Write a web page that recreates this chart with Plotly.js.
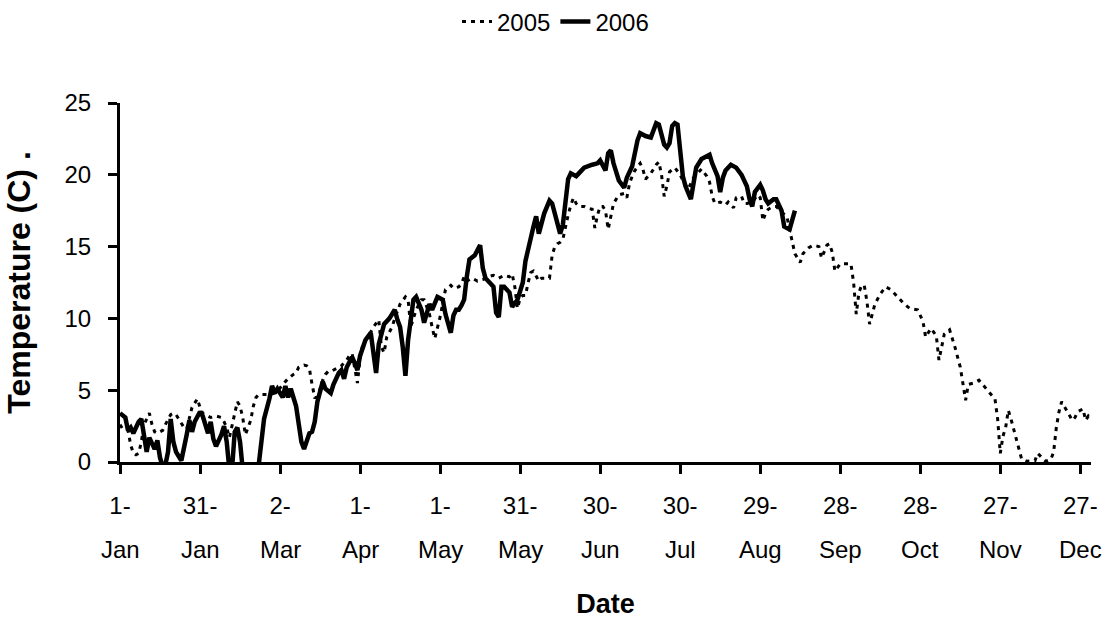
<!DOCTYPE html>
<html>
<head>
<meta charset="utf-8">
<script src="https://cdn.plot.ly/plotly-3.0.1.min.js"></script>
<style>html,body{margin:0;padding:0;background:#fff;}#chart{width:1111px;height:619px;}</style>
</head>
<body>
<div id="chart"></div>
<script>
// Day of year (1 = 1-Jan) and daily mean temperature (C)
const days2005 = [1,2,4,5,6,7,8,9,10,11,12,13,14,15,16,17,18,19,20,21,22,23,24,25,26,27,28,29,30,31,32,33,35,37,39,40,41,42,43,44,45,46,47,48,49,50,51,52,53,55,57,59,60,62,64,66,67,68,70,71,72,73,74,75,76,77,78,79,80,82,84,86,87,88,89,90,91,92,94,96,98,99,100,101,103,104,106,108,109,110,112,114,115,117,118,119,121,123,125,126,128,129,130,131,133,135,137,139,141,143,145,147,148,149,150,151,152,153,154,155,156,157,158,159,161,162,163,164,165,166,167,168,169,170,171,172,173,175,176,178,179,180,181,182,183,184,185,186,188,190,191,192,193,194,196,197,198,200,202,203,204,205,206,207,209,211,212,214,216,218,219,221,222,223,224,226,228,229,231,232,234,235,236,238,240,241,242,243,244,246,247,249,251,252,253,254,256,257,259,261,263,264,266,267,268,269,271,273,275,276,277,278,279,280,281,282,283,284,286,288,290,292,295,297,300,302,303,305,307,308,309,310,312,314,316,317,318,319,321,323,326,328,329,330,331,332,333,334,335,337,338,339,341,344,345,347,348,350,351,352,353,354,355,357,358,359,360,362,363,364,365];
const temp2005 = [2.6,2.3,2.2,1.2,0.6,0.5,0.6,1.4,2.6,3.0,3.4,2.6,2.1,2.0,2.1,2.2,2.6,3.0,3.3,3.4,3.3,3.0,2.7,2.4,2.3,3.0,3.8,4.1,4.4,3.8,3.4,3.3,3.1,3.2,3.1,2.8,2.4,1.7,2.6,3.4,4.2,3.9,3.1,1.9,2.4,2.9,3.9,4.5,4.7,4.7,4.7,4.8,4.9,5.4,5.8,6.1,6.2,6.6,6.75,6.7,6.5,5.4,4.5,4.5,5.2,5.7,6.1,6.3,6.3,6.5,6.7,7.1,7.4,7.55,6.5,5.5,7.2,8.2,8.7,9.4,9.9,8.0,7.6,8.7,9.4,10.0,11.0,11.5,11.3,9.4,10.6,11.3,11.3,10.3,9.4,8.6,10.1,12.0,12.3,12.1,12.2,12.4,12.9,12.6,12.8,12.6,12.7,12.9,13.0,12.8,13.0,12.9,13.1,12.2,10.7,11.4,11.6,11.6,12.5,13.2,13.3,13.0,12.6,12.8,12.8,12.8,14.4,15.0,15.2,15.3,15.5,16.4,17.2,17.9,18.4,18.0,17.8,17.8,17.7,17.6,16.3,17.2,17.8,17.8,17.5,16.2,17.2,18.0,18.6,18.7,18.4,19.4,19.9,20.3,20.8,20.4,19.7,20.1,20.7,20.9,20.0,18.5,19.2,20.2,20.5,20.0,19.6,19.0,19.8,20.2,20.4,19.9,19.5,18.5,18.0,18.1,17.9,18.1,17.7,18.4,18.5,18.0,18.0,18.1,18.6,18.4,16.8,17.3,17.6,17.8,17.8,17.4,17.1,16.2,15.3,14.5,13.9,14.5,14.9,15.1,15.0,14.2,15.1,15.2,14.6,13.3,13.8,13.8,13.8,12.5,10.3,11.8,12.3,12.3,11.2,9.6,10.3,11.0,11.7,12.2,12.0,11.6,11.0,10.7,10.6,9.8,8.7,9.3,8.8,7.1,8.0,8.9,9.2,8.0,6.6,5.5,4.3,5.4,5.5,5.7,5.0,4.6,4.4,3.0,0.6,1.8,2.4,3.6,3.0,1.5,0.8,0.2,0.05,0.1,0.6,0.2,0.05,0.2,0.7,2.4,3.5,4.2,3.9,3.3,2.9,3.1,3.5,3.7,2.9,3.2,3.0];

const days2006 = [1,3,4,5,6,8,9,10,11,12,14,15,16,17,18,19,20,21,22,23,24,26,27,28,29,31,32,34,35,36,37,39,40,41,42,43,44,45,46,47,48,50,52,53,54,55,57,58,59,60,62,63,64,65,67,68,69,70,71,72,73,74,75,76,77,78,80,81,83,84,85,86,88,89,90,91,93,95,96,97,98,100,102,104,105,106,107,108,109,110,111,112,113,114,115,116,117,118,119,120,122,123,125,126,127,128,129,130,131,132,134,135,136,137,138,139,141,142,143,144,145,147,148,150,152,153,155,156,157,158,160,162,163,165,166,167,168,169,170,172,173,175,178,180,181,183,184,185,186,187,188,190,191,193,194,195,196,198,200,201,202,203,204,205,206,207,208,209,210,211,212,213,215,216,217,219,222,223,225,226,227,228,230,232,234,236,237,238,239,241,242,243,244,246,247,249,250,252,253,254];
const temp2006 = [3.4,3.1,2.2,2.4,2.0,2.8,3.0,1.9,0.7,1.7,0.9,1.5,0.3,-0.3,-0.2,0.7,3.0,1.4,0.7,0.4,0.1,1.9,2.9,2.1,2.8,3.5,3.2,2.0,2.8,1.6,1.1,1.9,2.5,1.4,-0.5,-0.5,2.1,2.4,1.4,-0.5,-1.0,-1.5,-0.8,-0.2,1.6,3.0,4.4,5.3,4.8,5.1,4.5,5.3,4.5,5.1,3.9,2.5,1.4,0.9,1.5,2.0,2.1,2.8,4.2,5.0,5.6,5.1,4.8,5.4,6.2,6.4,5.8,6.6,7.3,6.9,6.4,7.4,8.5,9.0,7.5,6.2,8.2,9.6,10.0,10.6,9.9,9.4,8.0,6.0,8.5,10.2,11.3,11.5,11.0,10.6,9.7,10.3,11.0,10.6,11.0,11.5,11.3,10.3,9.0,10.2,10.6,10.6,10.9,11.3,12.9,14.1,14.4,14.7,15.1,13.5,12.8,12.6,12.2,10.4,10.1,12.2,12.2,11.8,10.8,11.3,12.5,14.0,15.8,16.4,17.1,15.9,17.3,18.2,18.0,16.6,15.9,16.5,18.5,19.7,20.1,19.9,20.1,20.5,20.7,20.8,21.0,20.3,21.5,21.7,20.8,20.1,19.6,19.1,19.8,20.6,21.5,22.4,22.9,22.7,22.6,23.1,23.6,23.5,22.7,22.1,21.9,22.2,23.4,23.6,23.5,21.7,19.9,19.2,18.3,19.4,20.5,21.1,21.4,20.8,19.9,18.8,19.8,20.3,20.7,20.5,20.0,19.2,18.3,17.8,18.8,19.3,18.9,18.3,18.0,18.3,18.3,17.5,16.4,16.2,16.8,17.5];

const tickDays = [1,31,61,91,121,151,181,211,241,271,301,331,361];
const tickDayText = ['1-','31-','2-','1-','1-','31-','30-','30-','29-','28-','28-','27-','27-'];
const tickMonthText = ['Jan','Jan','Mar','Apr','May','May','Jun','Jul','Aug','Sep','Oct','Nov','Dec'];

const seriesNames = ['2005','2006'];

const FONT = 'Liberation Sans, Arial, sans-serif';
const TICK_SIZE = 24;

const traces = [
  {x: days2005, y: temp2005, name: seriesNames[0], type: 'scatter', mode: 'lines',
   line: {color: '#000', width: 3, dash: '4px,5px'}},
  {x: days2006, y: temp2006, name: seriesNames[1], type: 'scatter', mode: 'lines',
   line: {color: '#000', width: 4.5}}
];

const axisCommon = {
  showgrid: false, zeroline: false, showline: true, linecolor: '#000', linewidth: 3,
  ticks: 'outside', ticklen: 9, tickwidth: 3, tickcolor: '#000'
};

// second row of the date labels (month names), placed under each tick
const monthAnnotations = tickDays.map((d, i) => ({
  x: d, xref: 'x', y: 0, yref: 'paper', yanchor: 'middle', xanchor: 'center',
  yshift: -87, showarrow: false, text: tickMonthText[i],
  font: {family: FONT, size: TICK_SIZE, color: '#000'}
}));

const layout = {
  width: 1111, height: 619,
  margin: {l: 120, r: 20, t: 103, b: 157, autoexpand: false},
  paper_bgcolor: '#fff', plot_bgcolor: '#fff',
  font: {family: FONT, color: '#000'},
  showlegend: true,
  legend: {orientation: 'h', x: 0.4485, xanchor: 'center', y: 1.226, yanchor: 'middle',
           font: {family: FONT, size: TICK_SIZE, color: '#000'}, bgcolor: 'rgba(0,0,0,0)'},
  xaxis: Object.assign({}, axisCommon, {
    range: [1, 365], tickmode: 'array', tickvals: tickDays, ticktext: tickDayText,
    tickfont: {family: FONT, size: TICK_SIZE, color: '#000'}, ticklabelstandoff: 11,
    title: {text: '<b>Date</b>', font: {family: FONT, size: 27, color: '#000'}, standoff: 84}
  }),
  yaxis: Object.assign({}, axisCommon, {
    range: [0, 25], tickmode: 'linear', tick0: 0, dtick: 5,
    tickfont: {family: FONT, size: TICK_SIZE, color: '#000'}, ticklabelstandoff: 12,
    title: {text: '<b>Temperature (C) .</b>', font: {family: FONT, size: 32, color: '#000'}, standoff: 25}
  }),
  annotations: monthAnnotations
};

Plotly.newPlot('chart', traces, layout, {displayModeBar: false, staticPlot: true});
</script>
</body>
</html>
